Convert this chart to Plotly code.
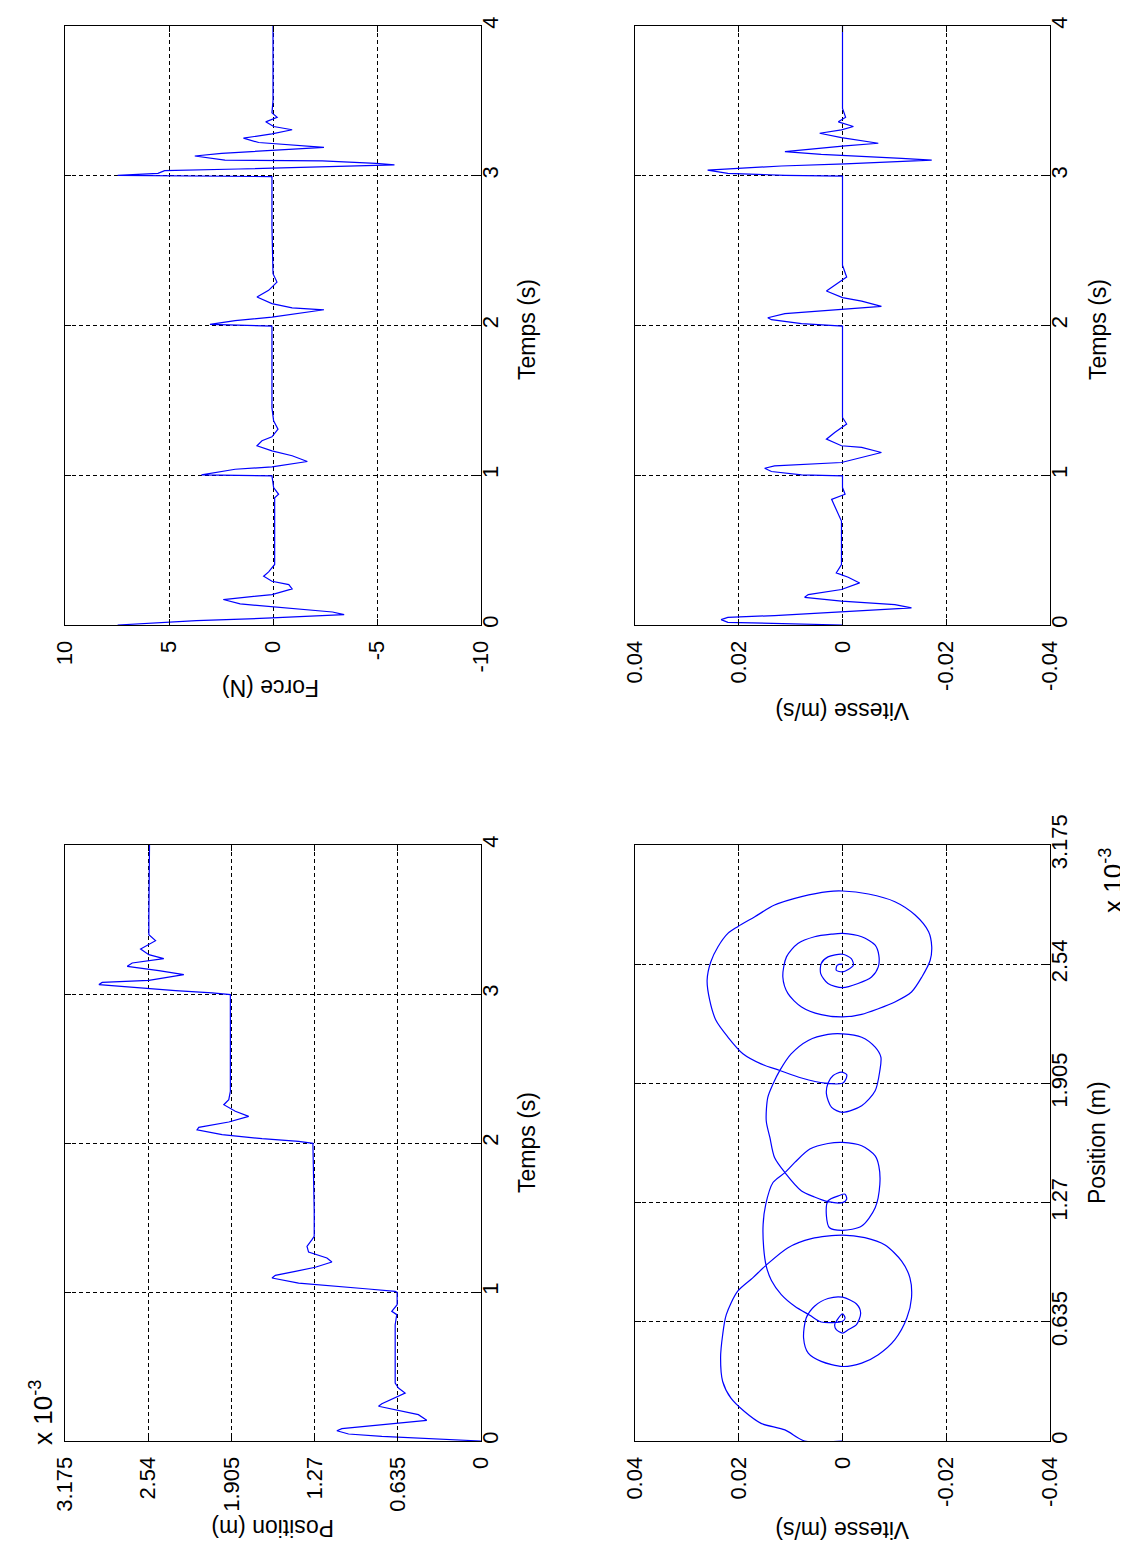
import plotly.graph_objects as go

# ---------------- data ----------------
# Position vs time (position in units of 1e-3 m)
time_pos = [0, 0.004, 0.009, 0.020, 0.031, 0.047, 0.069, 0.083, 0.11, 0.132,
            0.139, 0.177, 0.210, 0.233, 0.25, 0.322, 0.356, 0.389, 0.78, 0.848,
            0.87, 0.915, 0.998,
            1.004, 1.020, 1.042, 1.06, 1.094, 1.112, 1.139, 1.166, 1.201, 1.228,
            1.268, 1.306, 1.351, 1.374, 1.541, 1.998,
            2.011, 2.029, 2.056, 2.089, 2.105, 2.141, 2.179, 2.213, 2.257, 2.291,
            2.347, 2.996,
            3.007, 3.022, 3.063, 3.078, 3.092, 3.130, 3.157, 3.186, 3.208, 3.237,
            3.264, 3.302, 3.358, 3.398, 3.51, 3.823, 4.0]
position_e3 = [0, 0.109, 0.287, 0.503, 0.757, 1.011, 1.100, 1.062, 0.757, 0.478,
               0.414, 0.478, 0.655, 0.782, 0.757, 0.579, 0.630, 0.655, 0.655, 0.643,
               0.681, 0.640, 0.640,
               0.655, 0.859, 1.163, 1.392, 1.595, 1.570, 1.417, 1.265, 1.138, 1.176,
               1.316, 1.328, 1.290, 1.273, 1.273, 1.283,
               1.392, 1.671, 1.976, 2.167, 2.154, 1.925, 1.773, 1.875, 1.963, 1.925,
               1.913, 1.913,
               2.052, 2.332, 2.916, 2.891, 2.535, 2.268, 2.459, 2.700, 2.662, 2.421,
               2.535, 2.598, 2.484, 2.535, 2.535, 2.530, 2.530]

# Force vs time (N)
time_force = [0, 0.029, 0.047, 0.065, 0.069, 0.087, 0.109, 0.141, 0.170, 0.181,
              0.203, 0.241, 0.270, 0.292, 0.326, 0.355, 0.404, 0.85, 0.873, 0.918,
              0.996,
              1.002, 1.04, 1.056, 1.092, 1.13, 1.163, 1.197, 1.23, 1.257, 1.308,
              1.364, 1.45, 1.996,
              2.007, 2.033, 2.056, 2.105, 2.118, 2.146, 2.190, 2.235, 2.29, 2.346,
              2.659, 2.994,
              3.003, 3.016, 3.034, 3.045, 3.061, 3.072, 3.083, 3.099, 3.105, 3.132,
              3.15, 3.184, 3.19, 3.222, 3.251, 3.28, 3.307, 3.329, 3.36, 3.39,
              3.42, 3.5, 4.0]
force = [7.47, 3.68, 0.05, -2.37, -3.42, -2.86, -0.92, 1.58, 2.39, 1.66,
         0.05, -0.92, -0.76, 0.05, 0.45, 0.21, -0.08, -0.08, -0.27, -0.03,
         0.05,
         3.44, 1.82, 0.05, -1.65, -0.92, 0.05, 0.77, 0.53, 0.05, -0.24,
         -0.03, 0.05, 0.05,
         3.03, 1.82, 0.05, -2.45, -0.92, 0.05, 0.77, 0.21, -0.19, 0.0,
         0.05, 0.05,
         7.47, 5.53, 5.21, 1.66, -2.37, -5.84, -4.95, -2.37, 2.31, 3.76,
         2.47, -2.21, -2.45, 0.69, 1.42, 0.05, -0.92, -0.03, 0.35, -0.2,
         0.05, 0.0, 0.0]

# Velocity vs time (m/s)
time_vel = [0, 0.011, 0.018, 0.036, 0.051, 0.063, 0.087, 0.114, 0.136, 0.159,
            0.185, 0.203, 0.237, 0.281, 0.319, 0.348, 0.404, 0.694, 0.839, 0.873,
            0.918, 0.996,
            1.002, 1.025, 1.047, 1.063, 1.085, 1.152, 1.186, 1.197, 1.241, 1.286,
            1.342, 1.386, 1.996,
            2.005, 2.012, 2.039, 2.052, 2.079, 2.108, 2.128, 2.163, 2.186, 2.23,
            2.268, 2.324, 2.402, 2.998,
            3.003, 3.016, 3.038, 3.045, 3.065, 3.079, 3.094, 3.105, 3.116, 3.128,
            3.143, 3.161, 3.181, 3.199, 3.217, 3.235, 3.255, 3.284, 3.306, 3.329,
            3.36, 3.39, 3.45, 4.0]
velocity = [0, 0.0144, 0.0221, 0.0234, 0.0221, 0.0131, 0.0002, -0.0133, -0.0101, 0.0002,
            0.0073, 0.0066, 0.0002, -0.0033, -0.0011, 0.0012, 0.0002, 0.0002, 0.0021, -0.0005,
            0.0, 0.0,
            0.0079, 0.0137, 0.0150, 0.0131, 0.0002, -0.0075, -0.0037, 0.0002, 0.0031, 0.0015,
            -0.0008, 0.0, 0.0,
            0.0041, 0.0079, 0.0137, 0.0144, 0.0111, 0.0002, -0.0075, -0.0037, 0.0, 0.0031,
            0.0015, -0.0008, 0.0, 0.0,
            0.0111, 0.0221, 0.0260, 0.0221, 0.0118, -0.0005, -0.0114, -0.0172, -0.0114, -0.0037,
            0.0041, 0.0111, 0.0053, -0.0005, -0.0069, -0.0037, 0.0002, 0.0044, 0.0002, -0.0021,
            0.0008, -0.0006, 0.0, 0.0]

# Phase portrait: position (1e-3 m) and velocity (m/s), one list per step
phase_pos_step1 = [0, 0, 0.059, 0.094, 0.157, 0.228, 0.317, 0.442, 0.566, 0.673,
                   0.798, 0.869, 0.937, 1.030, 1.078, 1.097, 1.083, 1.044, 0.958, 0.869,
                   0.762, 0.655, 0.540, 0.460, 0.415, 0.397, 0.424, 0.468, 0.549, 0.655,
                   0.718, 0.759, 0.766, 0.730, 0.682, 0.620, 0.593, 0.575, 0.593, 0.620,
                   0.677, 0.655, 0.638]
phase_vel_step1 = [0, 0.0073, 0.0111, 0.0157, 0.0189, 0.0215, 0.0231, 0.0235, 0.0231, 0.0224,
                   0.0202, 0.0173, 0.0147, 0.0105, 0.0060, 0, -0.0043, -0.0082, -0.0114, -0.0130,
                   -0.0133, -0.0124, -0.0101, -0.0069, -0.0037, 0, 0.0041, 0.0066, 0.0075, 0.0070,
                   0.0054, 0.0028, 0, -0.0027, -0.0035, -0.0027, -0.0011, 0, 0.0012, 0.0015,
                   0, -0.0005, 0]
phase_pos_step2 = [0.634, 0.670, 0.718, 0.780, 0.855, 0.932, 1.030, 1.154, 1.261, 1.377,
                   1.430, 1.484, 1.555, 1.585, 1.591, 1.573, 1.519, 1.466, 1.368, 1.243,
                   1.145, 1.122, 1.136, 1.199, 1.279, 1.306, 1.315, 1.288, 1.270]
phase_vel_step2 = [0.0041, 0.0063, 0.0092, 0.0118, 0.0137, 0.0147, 0.0152, 0.0153, 0.0148, 0.0134,
                   0.0111, 0.0092, 0.0063, 0.0028, 0, -0.0037, -0.0063, -0.0070, -0.0072, -0.0063,
                   -0.0037, 0, 0.0025, 0.0031, 0.0028, 0.0008, -0.0005, -0.0008, 0]
phase_pos_step3 = [1.275, 1.300, 1.332, 1.430, 1.510, 1.617, 1.706, 1.831, 1.902, 1.973,
                   2.062, 2.134, 2.166, 2.169, 2.151, 2.098, 2.045, 1.973, 1.866, 1.786,
                   1.751, 1.777, 1.849, 1.906, 1.947, 1.965, 1.952, 1.920, 1.906]
phase_vel_step3 = [0.0028, 0.0054, 0.0079, 0.0111, 0.0131, 0.0140, 0.0147, 0.0144, 0.0134, 0.0121,
                   0.0099, 0.0066, 0.0028, 0, -0.0037, -0.0063, -0.0074, -0.0072, -0.0063, -0.0037,
                   0, 0.0021, 0.0031, 0.0028, 0.0018, 0.0002, -0.0008, -0.0005, 0]
phase_pos_step4 = [1.906, 1.934, 1.974, 2.009, 2.063, 2.152, 2.241, 2.348, 2.455, 2.552,
                   2.633, 2.704, 2.740, 2.793, 2.855, 2.900, 2.927, 2.930, 2.914, 2.873,
                   2.802, 2.713, 2.633, 2.561, 2.472, 2.392, 2.339, 2.303, 2.273, 2.259,
                   2.271, 2.312, 2.383, 2.472, 2.579, 2.650, 2.686, 2.700, 2.704, 2.686,
                   2.641, 2.588, 2.526, 2.472, 2.437, 2.415, 2.437, 2.490, 2.544, 2.579,
                   2.593, 2.570, 2.535, 2.512, 2.499, 2.508, 2.535, 2.540]
phase_vel_step4 = [0.0034, 0.0079, 0.0121, 0.0157, 0.0192, 0.0221, 0.0244, 0.0256, 0.0261, 0.0254,
                   0.0240, 0.0221, 0.0202, 0.0169, 0.0131, 0.0079, 0.0028, 0, -0.0050, -0.0101,
                   -0.0140, -0.0166, -0.0172, -0.0169, -0.0153, -0.0133, -0.0101, -0.0069, -0.0037, 0,
                   0.0041, 0.0079, 0.0105, 0.0115, 0.0108, 0.0086, 0.0054, 0.0021, 0, -0.0037,
                   -0.0063, -0.0070, -0.0069, -0.0056, -0.0030, 0, 0.0028, 0.0042, 0.0041, 0.0028,
                   0, -0.0017, -0.0021, -0.0011, 0, 0.0012, 0.0010, 0]

# Tick values / labels
time_ticks = [0, 1, 2, 3, 4]
force_ticks = [10, 5, 0, -5, -10]
force_labels = ["10", "5", "0", "-5", "-10"]
vel_ticks = [0.04, 0.02, 0, -0.02, -0.04]
vel_labels = ["0.04", "0.02", "0", "-0.02", "-0.04"]
pos_ticks_e3 = [0, 0.635, 1.27, 1.905, 2.54, 3.175]
pos_labels = ["0", "0.635", "1.27", "1.905", "2.54", "3.175"]

# ---------------- figure ----------------
SCALE = 1e-3
position = [p * SCALE for p in position_e3]
phase_position = [p * SCALE for p in
                  phase_pos_step1 + phase_pos_step2 + phase_pos_step3 + phase_pos_step4]
phase_velocity = phase_vel_step1 + phase_vel_step2 + phase_vel_step3 + phase_vel_step4
pos_ticks = [p * SCALE for p in pos_ticks_e3]

W, H = 1128, 1545
FONT = "Liberation Sans, Arial, Helvetica, sans-serif"
BLUE = "#0000FF"

left_dom = [57 / W, 473 / W]
right_dom = [627 / W, 1042 / W]
top_dom = [1 - 617 / H, 1 - 18 / H]
bot_dom = [1 - 1433 / H, 1 - 837 / H]

fig = go.Figure()
line = dict(color=BLUE, width=1.2)
fig.add_trace(go.Scatter(x=force, y=time_force, xaxis="x", yaxis="y",
                         mode="lines", line=line, hoverinfo="skip"))
fig.add_trace(go.Scatter(x=velocity, y=time_vel, xaxis="x2", yaxis="y2",
                         mode="lines", line=line, hoverinfo="skip"))
fig.add_trace(go.Scatter(x=position, y=time_pos, xaxis="x3", yaxis="y3",
                         mode="lines", line=line, hoverinfo="skip"))
fig.add_trace(go.Scatter(x=phase_velocity, y=phase_position, xaxis="x4", yaxis="y4",
                         mode="lines", line=dict(color=BLUE, width=1.2, shape="spline",
                                                 smoothing=0.8),
                         hoverinfo="skip"))

common = dict(showline=True, linecolor="black", linewidth=1, mirror="ticks",
              ticks="inside", ticklen=6, tickcolor="black", tickwidth=1,
              showgrid=True, gridcolor="black", griddash="4px,3px", gridwidth=1,
              zeroline=False, tickangle=-90, fixedrange=True, automargin=False,
              tickfont=dict(family=FONT, size=22, color="black"))

xstand = 6
ystand = -10

fig.update_layout(
    width=W, height=H,
    margin=dict(l=0, r=0, t=0, b=0, pad=0, autoexpand=False),
    paper_bgcolor="white", plot_bgcolor="white",
    showlegend=False,
    font=dict(family=FONT, color="black"),
    # Force panel
    xaxis=dict(domain=left_dom, anchor="y", range=[10, -10], tickmode="array",
               tickvals=force_ticks, ticktext=force_labels,
               ticklabelstandoff=xstand, **common),
    yaxis=dict(domain=top_dom, anchor="x", side="right", range=[0, 4],
               tickmode="array", tickvals=time_ticks,
               ticktext=[str(t) for t in time_ticks],
               ticklabelstandoff=ystand, **common),
    # Velocity vs time panel
    xaxis2=dict(domain=right_dom, anchor="y2", range=[0.04, -0.04], tickmode="array",
                tickvals=vel_ticks, ticktext=vel_labels,
                ticklabelstandoff=xstand, **common),
    yaxis2=dict(domain=top_dom, anchor="x2", side="right", range=[0, 4],
                tickmode="array", tickvals=time_ticks,
                ticktext=[str(t) for t in time_ticks],
                ticklabelstandoff=ystand, **common),
    # Position vs time panel
    xaxis3=dict(domain=left_dom, anchor="y3", range=[3.175 * SCALE, 0], tickmode="array",
                tickvals=pos_ticks, ticktext=pos_labels,
                ticklabelstandoff=xstand, **common),
    yaxis3=dict(domain=bot_dom, anchor="x3", side="right", range=[0, 4],
                tickmode="array", tickvals=time_ticks,
                ticktext=[str(t) for t in time_ticks],
                ticklabelstandoff=ystand, **common),
    # Phase portrait
    xaxis4=dict(domain=right_dom, anchor="y4", range=[0.04, -0.04], tickmode="array",
                tickvals=vel_ticks, ticktext=vel_labels,
                ticklabelstandoff=xstand, **common),
    yaxis4=dict(domain=bot_dom, anchor="x4", side="right", range=[0, 3.175 * SCALE],
                tickmode="array", tickvals=pos_ticks, ticktext=pos_labels,
                ticklabelstandoff=ystand, **common),
)


def ann(text, px, py, angle, size=23):
    fig.add_annotation(text=text, x=px / W, y=1 - py / H, xref="paper", yref="paper",
                       xanchor="center", yanchor="middle", showarrow=False,
                       textangle=angle, font=dict(family=FONT, size=size, color="black"))


ann("Temps (s)", 519, 322, -90)
ann("Temps (s)", 1090, 322, -90)
ann("Temps (s)", 519, 1135, -90)
ann("Position (m)", 1089, 1135, -90)
ann("Force (N)", 263, 680, 180)
ann("Vitesse (m/s)", 834, 703, 180)
ann("Position (m)", 265, 1520, 180)
ann("Vitesse (m/s)", 834, 1522, 180)
ann("x 10<sup>-3</sup>", 33, 1405, -90, size=26)
ann("x 10<sup>-3</sup>", 1104, 873, -90, size=26)

fig.write_html("out.html")
